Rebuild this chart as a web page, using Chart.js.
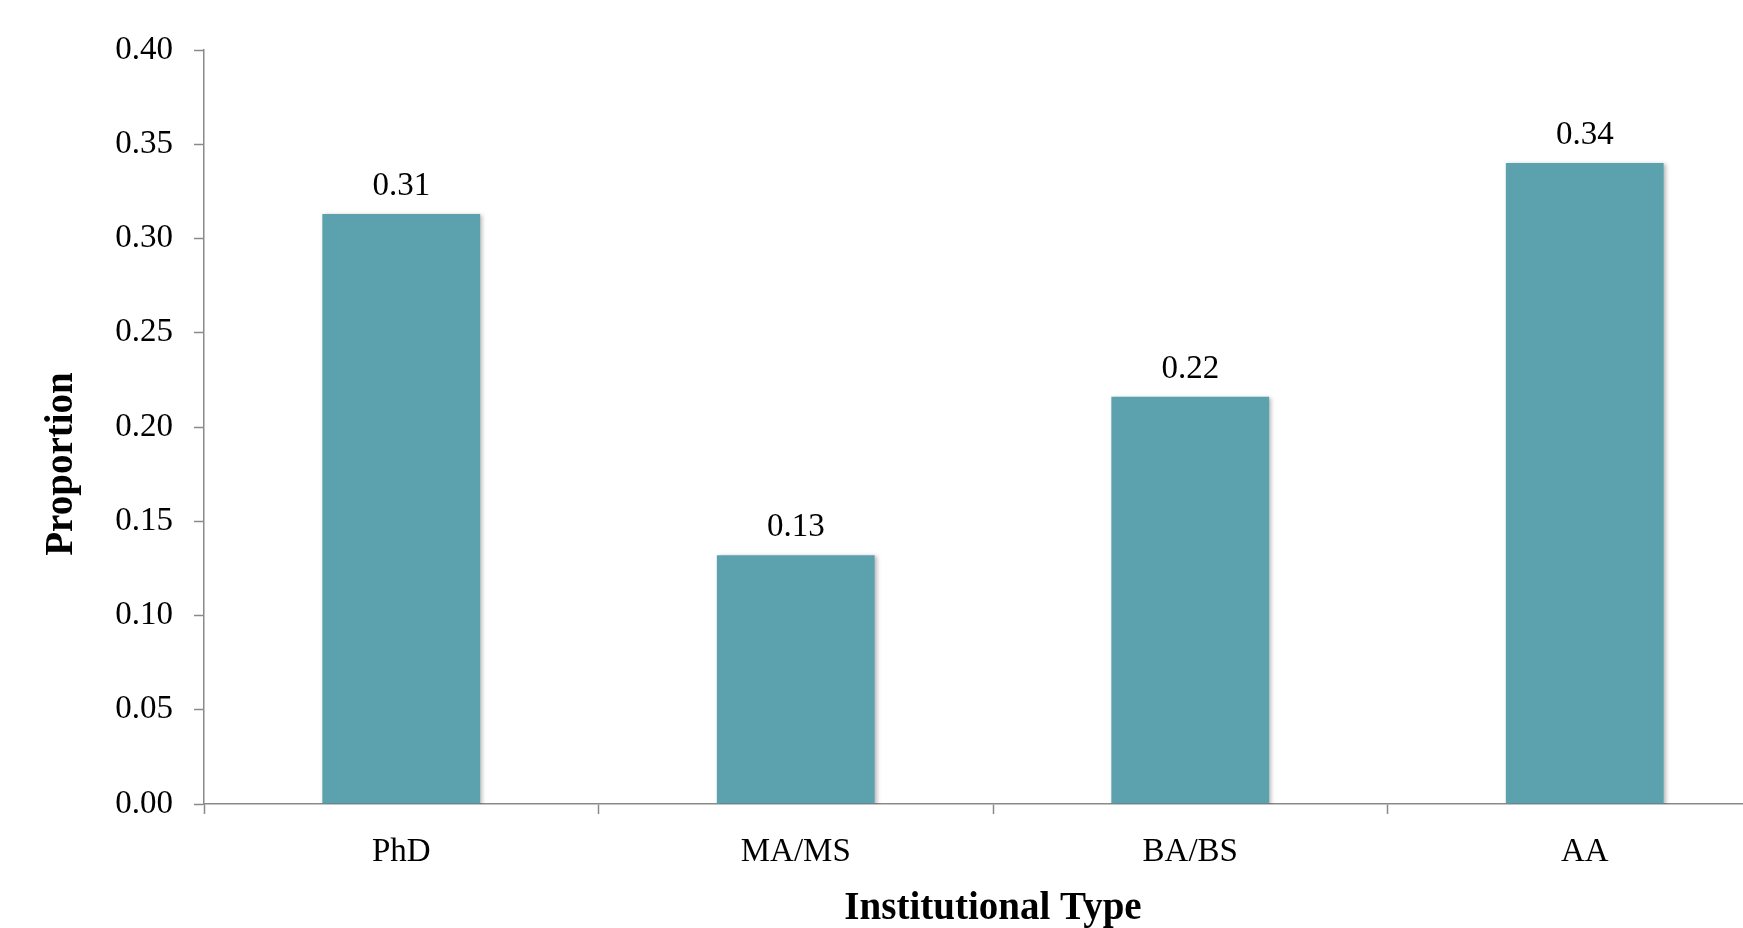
<!DOCTYPE html>
<html>
<head>
<meta charset="utf-8">
<script src="https://cdn.jsdelivr.net/npm/chart.js@4/dist/chart.umd.min.js"></script>
<style>
  html, body { margin: 0; padding: 0; background: #ffffff; overflow: hidden; }
  #wrap { width: 1782px; height: 928px; }
</style>
</head>
<body>
<div id="wrap"><canvas id="chart" width="1782" height="928"></canvas></div>
<script>
// Proportion of respondents by institutional type
const categories = ['PhD', 'MA/MS', 'BA/BS', 'AA'];
const proportions = [0.313, 0.132, 0.216, 0.340];
const yTicks = [0, 0.05, 0.10, 0.15, 0.20, 0.25, 0.30, 0.35, 0.40];

const SERIF = '"Liberation Serif", "Times New Roman", serif';
const AXIS_GREY = '#8a8a8a';
const BAR_TEAL = '#5ba2ae';

// Value labels above each bar, taken from the bar's own value
const valueLabels = {
  id: 'valueLabels',
  afterDatasetsDraw(chart) {
    const ctx = chart.ctx;
    const meta = chart.getDatasetMeta(0);
    const values = chart.data.datasets[0].data;
    ctx.save();
    ctx.font = '33px ' + SERIF;
    ctx.fillStyle = '#000000';
    ctx.textAlign = 'center';
    ctx.textBaseline = 'alphabetic';
    meta.data.forEach((bar, i) => {
      ctx.fillText(values[i].toFixed(2), bar.x, bar.y - 19);
    });
    ctx.restore();
  }
};

// Soft drop shadow behind the bars
const barShadow = {
  id: 'barShadow',
  beforeDatasetsDraw(chart) {
    const ctx = chart.ctx;
    ctx.save();
    ctx.shadowColor = 'rgba(0,0,0,0.28)';
    ctx.shadowBlur = 4;
    ctx.shadowOffsetX = 2;
    ctx.shadowOffsetY = 1;
  },
  afterDatasetsDraw(chart) {
    chart.ctx.restore();
  }
};

// Vertical axis title, set a little below the axis midpoint
const yAxisTitle = {
  id: 'yAxisTitle',
  afterDraw(chart) {
    const ctx = chart.ctx;
    ctx.save();
    ctx.translate(62, 464);
    ctx.rotate(-Math.PI / 2);
    ctx.font = 'bold 39px ' + SERIF;
    ctx.fillStyle = '#000000';
    ctx.textAlign = 'center';
    ctx.textBaseline = 'middle';
    ctx.fillText('Proportion', 0, 0);
    ctx.restore();
  }
};

new Chart(document.getElementById('chart'), {
  type: 'bar',
  data: {
    labels: categories,
    datasets: [{
      data: proportions,
      backgroundColor: BAR_TEAL,
      borderWidth: 0,
      categoryPercentage: 1.0,
      barPercentage: 0.4
    }]
  },
  options: {
    responsive: false,
    animation: false,
    devicePixelRatio: 1,
    layout: { padding: { top: 50, left: 0, right: 0, bottom: 0 } },
    plugins: {
      legend: { display: false },
      tooltip: { enabled: false }
    },
    scales: {
      x: {
        offset: true,
        grid: {
          display: true,
          offset: true,
          drawOnChartArea: false,
          drawTicks: true,
          tickLength: 10,
          tickWidth: 1.5,
          tickColor: AXIS_GREY,
          color: AXIS_GREY
        },
        border: { display: true, color: AXIS_GREY, width: 1.5 },
        ticks: {
          color: '#000000',
          font: { family: SERIF, size: 33 },
          padding: 19,
          maxRotation: 0
        },
        title: {
          display: true,
          text: 'Institutional Type',
          color: '#000000',
          font: { family: SERIF, size: 39, weight: 'bold', lineHeight: 0.96 },
          padding: { top: 0, bottom: 0 }
        },
        afterFit(scale) { scale.height = 124; }
      },
      y: {
        min: 0,
        max: 0.4,
        afterBuildTicks(scale) { scale.ticks = yTicks.map(v => ({ value: v })); },
        grid: {
          display: true,
          drawOnChartArea: false,
          drawTicks: true,
          tickLength: 10,
          tickWidth: 1.5,
          tickColor: AXIS_GREY,
          color: AXIS_GREY
        },
        border: { display: true, color: AXIS_GREY, width: 1.5 },
        ticks: {
          color: '#000000',
          font: { family: SERIF, size: 33 },
          padding: 21,
          callback: v => Number(v).toFixed(2)
        },
        afterFit(scale) { scale.width = 204; }
      }
    }
  },
  plugins: [barShadow, valueLabels, yAxisTitle]
});
</script>
</body>
</html>
